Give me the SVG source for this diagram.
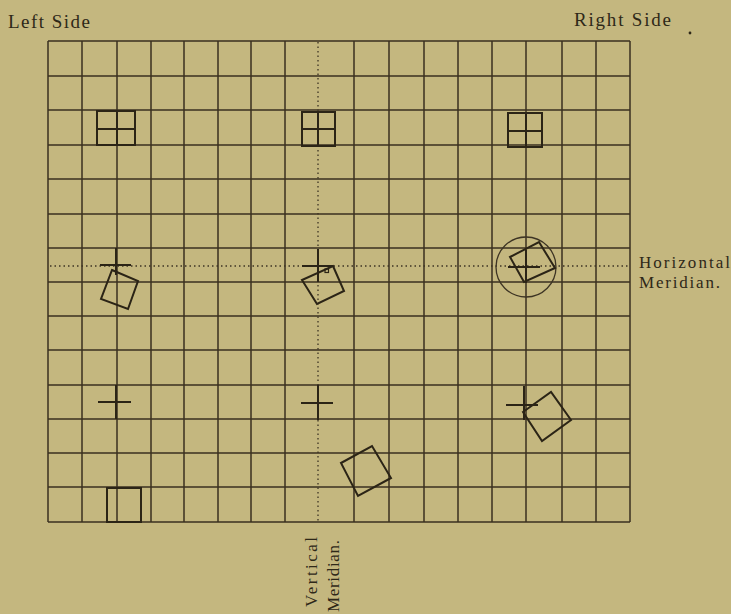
<svg xmlns="http://www.w3.org/2000/svg" width="731" height="614" viewBox="0 0 731 614">
<style>
.grid{stroke:#3a3121;stroke-width:1.5;fill:none}
.mer{stroke:#3d3424;stroke-width:1.3;stroke-dasharray:1.5 3;fill:none}
.mark{stroke:#2b2416;stroke-width:2;fill:none}
.thin{stroke:#3d3424;stroke-width:1.3;fill:none}
text{font-family:"Liberation Serif",serif;fill:#2e2818}
</style>
<rect width="731" height="614" fill="#c4b77f"/>
<g id="grid" class="grid">
<path d="M48,41V522M82,41V522M117,41V522M151,41V522M184,41V522M218,41V522M251,41V522M285,41V522M354,41V522M389,41V522M424,41V522M458,41V522M492,41V522M526,41V522M562,41V522M596,41V522M630,41V522"/>
<path d="M48,41H630M48,76H630M48,110H630M48,145H630M48,179H630M48,214H630M48,248H630M48,282H630M48,316H630M48,350H630M48,385H630M48,419H630M48,453H630M48,487H630M48,522H630"/>
</g>
<g id="meridians">
<line class="mer" x1="318" y1="42" x2="318" y2="521"/>
<line class="mer" x1="50" y1="266" x2="628" y2="266"/>
</g>
<g id="upper-squares" class="mark">
<rect x="97" y="111" width="38" height="34"/><path d="M117,111V145M97,129H135"/>
<rect x="302" y="112" width="33" height="34"/><path d="M318,112V146M302,129H335"/>
<rect x="508" y="113" width="34" height="34"/><path d="M526,113V147M508,131H542"/>
</g>
<g id="middle-row" class="mark">
<path d="M100,265H131M116,248V275"/>
<polygon points="112,270 138,281 128,309 101,299"/>
<path d="M302,266H333M318,249V282"/>
<polygon points="333,266 344,291 317,304 302,280"/>
<rect x="325" y="269" width="3.5" height="3.5" stroke-width="1.2"/>
<circle class="thin" cx="526" cy="267" r="30"/>
<path d="M508,267H540M526,250V283"/>
<polygon points="510,257 539,242 555,268 524,282"/>
</g>
<g id="lower-row" class="mark">
<path d="M98,402H131M116,385V419"/>
<path d="M301,403H333M318,385V420"/>
<path d="M506,405H538M524,386V420"/>
<polygon points="523,412 551,392 571,420 542,441"/>
<polygon points="341,463 372,446 391,478 358,496"/>
<rect x="107" y="488" width="34" height="34"/>
</g>
<g id="labels">
<text x="8" y="28" font-size="19" textLength="82">Left Side</text>
<text x="574" y="26" font-size="19" textLength="97">Right Side</text>
<circle cx="690" cy="33" r="1.4" fill="#2e2818"/>
<text x="639" y="268" font-size="17" textLength="91">Horizontal</text>
<text x="639" y="288" font-size="17" textLength="81">Meridian.</text>
<text transform="translate(317,607) rotate(-90)" font-size="17" textLength="70">Vertical</text>
<text transform="translate(339,612) rotate(-90)" font-size="17" textLength="72">Meridian.</text>
</g>
</svg>
